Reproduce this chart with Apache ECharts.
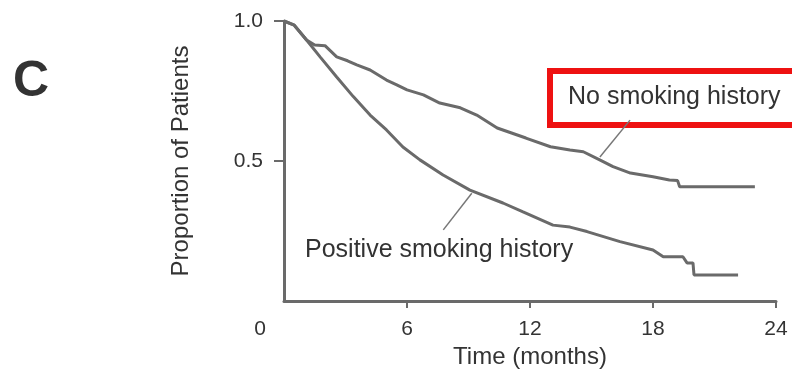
<!DOCTYPE html>
<html>
<head>
<meta charset="utf-8">
<script src="https://cdn.jsdelivr.net/npm/echarts@6/dist/echarts.min.js"></script>
<style>
  html, body { margin: 0; padding: 0; background: #ffffff; }
  #chart { width: 792px; height: 376px; }
</style>
</head>
<body>
<div id="chart"></div>
<script>
// Axis ticks
const xTicks = [0, 6, 12, 18, 24];
const yTicks = [0.5, 1.0];

// Survival curve: patients with no smoking history (months, proportion)
const noSmokingTime = [0, 0.5, 1.1, 1.5, 2.0, 2.57, 3.1, 3.55, 4.2, 5.0, 5.5, 6.0, 6.8, 7.6, 8.6, 9.4, 10.4, 11.1, 11.8, 13.0, 13.95, 14.6, 15.4, 16.05, 16.9, 18.0, 18.8, 19.2, 19.3, 22.97];
const noSmokingProp = [1.0, 0.985, 0.932, 0.914, 0.912, 0.872, 0.858, 0.843, 0.825, 0.789, 0.772, 0.754, 0.736, 0.707, 0.69, 0.664, 0.618, 0.6, 0.582, 0.551, 0.539, 0.533, 0.504, 0.48, 0.457, 0.444, 0.432, 0.43, 0.408, 0.408];

// Survival curve: patients with a positive smoking history
const smokingTime = [0, 0.5, 1.1, 1.76, 2.57, 3.38, 4.2, 5.0, 5.8, 6.63, 7.76, 9.07, 10.68, 11.66, 13.12, 13.95, 14.78, 16.39, 18.0, 18.5, 19.46, 19.66, 19.95, 20.0, 22.15];
const smokingProp = [1.0, 0.985, 0.932, 0.872, 0.80, 0.73, 0.664, 0.611, 0.55, 0.504, 0.45, 0.396, 0.35, 0.318, 0.271, 0.264, 0.248, 0.212, 0.182, 0.158, 0.158, 0.136, 0.136, 0.093, 0.093];

// Leader lines from the labels to the curves (months, proportion)
const noSmokingLeader = [[15.41, 0.514], [16.88, 0.646]];
const smokingLeader = [[9.16, 0.385], [7.77, 0.254]];

const zip = (xs, ys) => xs.map((x, i) => [x, ys[i]]);

const FONT = "'Liberation Sans', Arial, Helvetica, sans-serif";
const TEXT = '#333333';
const INK = '#6a6a6a';

const chart = echarts.init(document.getElementById('chart'), null, { renderer: 'canvas' });

chart.setOption({
  backgroundColor: '#ffffff',
  animation: false,
  grid: { left: 284, right: 16, top: 21, bottom: 75, outerBoundsMode: 'none' },
  xAxis: {
    type: 'value',
    min: 0,
    max: 24,
    interval: 6,
    name: 'Time (months)',
    nameLocation: 'middle',
    nameGap: 43,
    nameTextStyle: { fontFamily: FONT, fontSize: 24, color: TEXT },
    axisLine: { show: true, lineStyle: { color: INK, width: 3 } },
    axisTick: { show: true, customValues: xTicks.slice(1), length: 7, inside: false, lineStyle: { color: INK, width: 2 } },
    axisLabel: {
      customValues: xTicks,
      margin: 18,
      fontFamily: FONT,
      fontSize: 21,
      color: TEXT,
      formatter: v => (v === 0 ? '{zero|0}' : String(v)),
      rich: { zero: { fontFamily: FONT, fontSize: 21, color: TEXT, padding: [0, 48, 0, 0] } }
    },
    splitLine: { show: false }
  },
  yAxis: {
    type: 'value',
    min: 0,
    max: 1,
    interval: 0.5,
    name: 'Proportion of Patients',
    nameLocation: 'middle',
    nameGap: 91,
    nameRotate: 90,
    nameTextStyle: { fontFamily: FONT, fontSize: 24, color: TEXT },
    axisLine: { show: true, lineStyle: { color: INK, width: 3 } },
    axisTick: { show: true, customValues: yTicks, length: 10, inside: false, lineStyle: { color: INK, width: 2 } },
    axisLabel: {
      customValues: yTicks,
      margin: 21,
      fontFamily: FONT,
      fontSize: 21,
      color: TEXT,
      formatter: v => v.toFixed(1)
    },
    splitLine: { show: false }
  },
  series: [
    {
      name: 'No smoking history',
      type: 'line',
      data: zip(noSmokingTime, noSmokingProp),
      showSymbol: false,
      lineStyle: { color: INK, width: 3 },
      z: 3,
      markLine: {
        silent: true,
        symbol: ['none', 'none'],
        label: { show: false },
        lineStyle: { color: '#777777', width: 1.5, type: 'solid' },
        data: [[{ coord: noSmokingLeader[0] }, { coord: noSmokingLeader[1] }]]
      }
    },
    {
      name: 'Positive smoking history',
      type: 'line',
      data: zip(smokingTime, smokingProp),
      showSymbol: false,
      lineStyle: { color: INK, width: 3 },
      z: 3,
      markLine: {
        silent: true,
        symbol: ['none', 'none'],
        label: { show: false },
        lineStyle: { color: '#777777', width: 1.5, type: 'solid' },
        data: [[{ coord: smokingLeader[0] }, { coord: smokingLeader[1] }]]
      }
    }
  ],
  graphic: [
    {
      type: 'text',
      left: 13,
      top: 57,
      style: { text: 'C', font: "bold 50px " + FONT, fill: TEXT }
    },
    {
      type: 'rect',
      shape: { x: 550, y: 71, width: 250, height: 54 },
      style: { fill: 'none', stroke: '#ee1111', lineWidth: 6 }
    },
    {
      type: 'text',
      x: 568,
      y: 97,
      style: { text: 'No smoking history', font: "25px " + FONT, fill: TEXT, verticalAlign: 'middle', align: 'left' }
    },
    {
      type: 'text',
      x: 305,
      y: 250,
      style: { text: 'Positive smoking history', font: "25px " + FONT, fill: TEXT, verticalAlign: 'middle', align: 'left' }
    }
  ]
});
</script>
</body>
</html>
